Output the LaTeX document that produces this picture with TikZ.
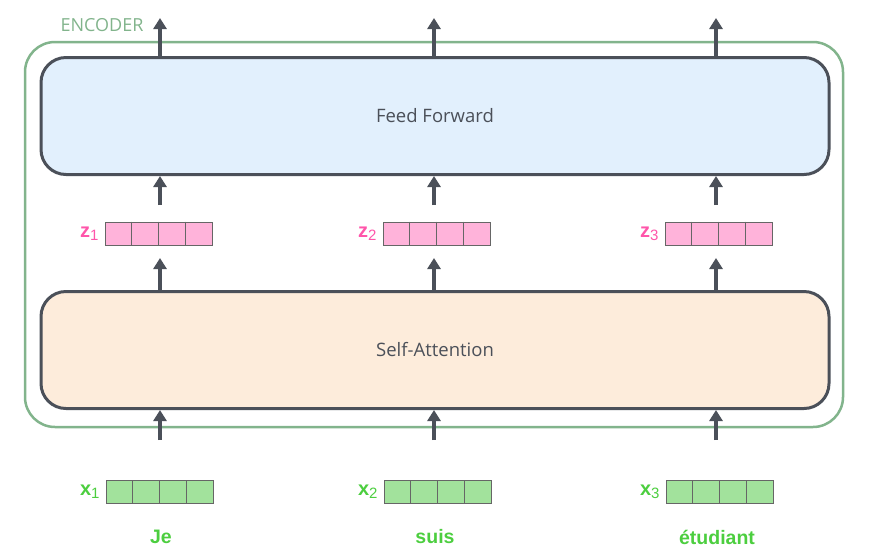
\documentclass[tikz,border=0pt]{standalone}
\usepackage{fontspec}
\setmainfont{Open Sans}
\newfontfamily\wordfont{Liberation Sans}
\usetikzlibrary{arrows.meta,calc}
\definecolor{encgreen}{RGB}{130,180,140}
\definecolor{boxgray}{RGB}{75,80,89}
\definecolor{ffblue}{RGB}{226,240,253}
\definecolor{sapeach}{RGB}{253,236,219}
\definecolor{zpink}{RGB}{255,179,218}
\definecolor{ztext}{RGB}{255,85,170}
\definecolor{xgreen}{RGB}{162,226,156}
\definecolor{xtext}{RGB}{76,206,63}
\tikzset{
  layer/.style={draw=boxgray,line width=3pt,rounded corners=25pt,minimum width=788pt,minimum height=117pt,font=\fontsize{18.5}{22}\selectfont,text=boxgray},
  vec/.style={draw=gray!80!black,line width=1pt,minimum width=107pt,minimum height=23pt,inner sep=0pt},
  arr/.style={draw=boxgray,line width=3.5pt,-{Triangle[width=13pt,length=11pt]}},
}
\begin{document}
\begin{tikzpicture}[x=1pt,y=-1pt]
\useasboundingbox (0,0) rectangle (870,558);
\draw[encgreen,line width=2.5pt,rounded corners=30pt] (25,42) rectangle (843,427);
\node[encgreen,font=\fontsize{18}{20}\selectfont] (enc) at (102,25) {ENCODER};
\node[layer,fill=ffblue] (ff) at (435,116) {Feed Forward};
\node[layer,fill=sapeach] (sa) at (435,350) {Self-Attention};
\foreach \i/\cx/\ax/\w in {1/158.5/160/Je,2/436.5/434/suis,3/718.5/716/étudiant}{
  \node[vec,fill=zpink] (z\i) at (\cx,233.5) {};
  \node[vec,fill=xgreen] (x\i) at (\cx+1,492) {};
  \foreach \k in {1,2,3}{
    \draw[gray!80!black,line width=1pt] ($(z\i.north west)!\k/4!(z\i.north east)$) -- ($(z\i.south west)!\k/4!(z\i.south east)$);
    \draw[gray!80!black,line width=1pt] ($(x\i.north west)!\k/4!(x\i.north east)$) -- ($(x\i.south west)!\k/4!(x\i.south east)$);
  }
  \node[ztext,left=2pt,font=\wordfont\fontsize{20}{20}\selectfont] (zl\i) at (z\i.west) {\textbf{z}\textsubscript{\fontsize{15}{15}\selectfont\i}};
  \node[xtext,left=2pt,font=\wordfont\fontsize{20}{20}\selectfont] (xl\i) at (x\i.west) {\textbf{x}\textsubscript{\fontsize{15}{15}\selectfont\i}};
  \node[xtext,font=\wordfont\bfseries\fontsize{19.5}{22}\selectfont] (w\i) at (\ax+1,537) {\w};
  \coordinate (out\i) at (\ax,18);
  \draw[arr] (\ax,0 |- ff.north) -- (out\i);
  \draw[arr] (\ax,205) -- (\ax,0 |- ff.south);
  \draw[arr] (\ax,0 |- sa.north) -- (\ax,258);
  \draw[arr] (\ax,440) -- (\ax,0 |- sa.south);
}
\end{tikzpicture}
\end{document}
